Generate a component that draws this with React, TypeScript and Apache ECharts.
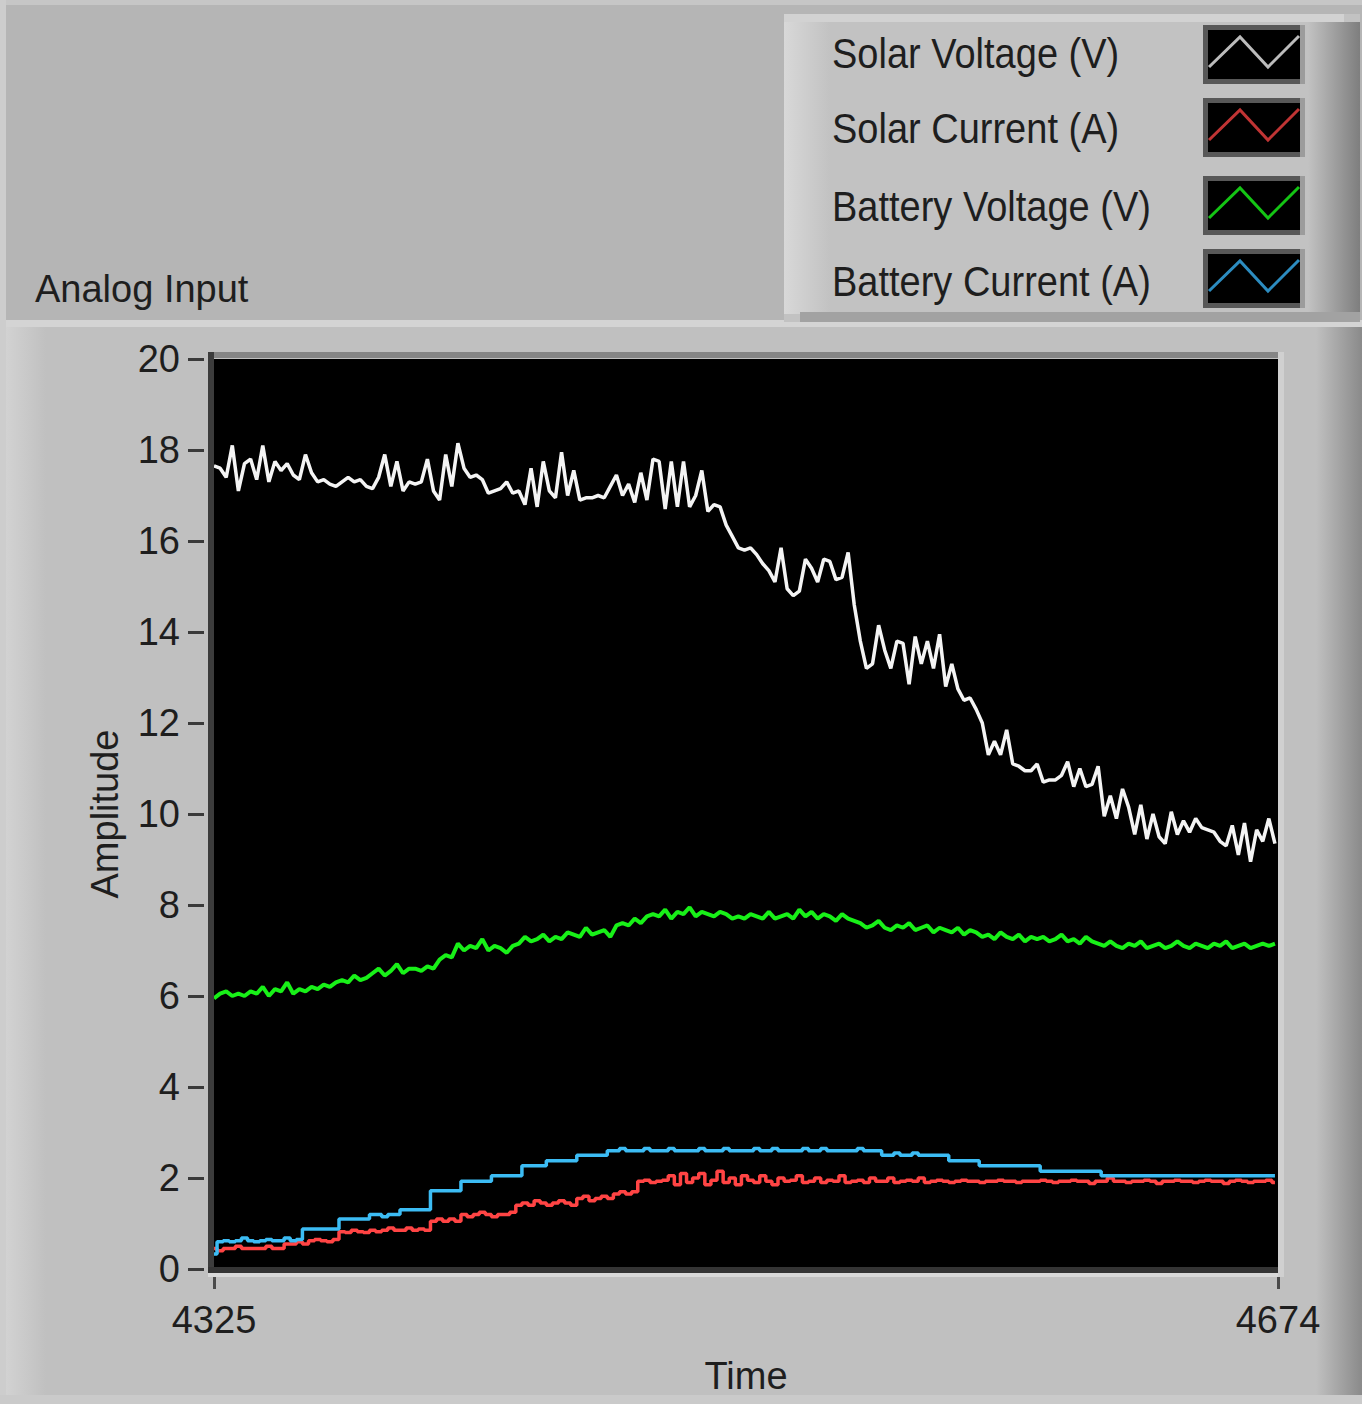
import React, { useEffect, useRef } from "react";
import * as echarts from "echarts";

// ---- data ----
const T0 = 4325; // first sample time
const T1 = 4674; // last time on axis
const DT = 2; // time units between listed samples

const seriesNames = ["Solar Voltage (V)", "Solar Current (A)", "Battery Voltage (V)", "Battery Current (A)"];
const seriesColors = ["#f4f4f4", "#ff4444", "#18f018", "#3cbcf4"];
const swatchColors = ["#bcbcbc", "#c03434", "#14c414", "#2c8cc0"];
const xTickValues = [4325, 4674];

const solarVoltage = [
  17.65, 17.6, 17.4, 18.1, 17.1, 17.7, 17.8, 17.35, 18.1, 17.3,
  17.75, 17.55, 17.7, 17.45, 17.35, 17.9, 17.5, 17.3, 17.35, 17.25,
  17.2, 17.3, 17.4, 17.3, 17.35, 17.2, 17.15, 17.4, 17.9, 17.2,
  17.75, 17.1, 17.3, 17.25, 17.3, 17.8, 17.1, 16.9, 17.9, 17.2,
  18.15, 17.6, 17.4, 17.45,
  17.35, 17.05, 17.1, 17.15, 17.3, 17.05, 17.1, 16.8, 17.6, 16.75,
  17.75, 17.1, 16.95, 17.95, 17.0, 17.55, 16.9, 16.95, 16.95, 17.0,
  16.95, 17.2, 17.45, 17.0, 17.25, 16.85, 17.5, 16.9, 17.8, 17.75,
  16.7, 17.75, 16.75, 17.75, 16.75, 17.0, 17.55, 16.65, 16.8, 16.75,
  16.35, 16.1, 15.85,
  15.8, 15.85, 15.7, 15.5, 15.35, 15.1, 15.85, 14.95, 14.8, 14.9,
  15.6, 15.4, 15.1, 15.6, 15.55, 15.15, 15.2, 15.75, 14.6, 13.8,
  13.2, 13.3, 14.15, 13.6, 13.2, 13.8, 13.75, 12.85, 13.9, 13.3,
  13.8, 13.2, 13.95, 12.8, 13.3, 12.75, 12.5, 12.55, 12.3, 12.0,
  11.3, 11.6, 11.3,
  11.85, 11.1, 11.05, 10.95, 10.95, 11.1, 10.7, 10.75, 10.75, 10.85,
  11.15, 10.6, 11.0, 10.6, 10.65, 11.05, 9.95, 10.4, 9.9, 10.55,
  10.15, 9.55, 10.2, 9.45, 10.0, 9.5, 9.35, 10.05, 9.55, 9.85,
  9.6, 9.9, 9.7, 9.65, 9.6, 9.4, 9.3, 9.75, 9.1, 9.8,
  8.95, 9.65, 9.4, 9.9, 9.35,
];

const solarCurrent = [
  0.45, 0.4, 0.45, 0.45, 0.5, 0.45, 0.45, 0.45, 0.45, 0.5, 0.45, 0.45,
  0.55, 0.55, 0.6, 0.55,
  0.62, 0.65, 0.62, 0.6, 0.65,
  0.82, 0.8, 0.85, 0.82, 0.8, 0.85, 0.82,
  0.85, 0.9, 0.85, 0.85, 0.9, 0.85, 0.88, 0.85,
  1.05, 1.1, 1.05, 1.1, 1.05,
  1.2, 1.15, 1.2, 1.25, 1.2, 1.15, 1.2, 1.2, 1.25,
  1.4, 1.45, 1.4, 1.5, 1.45, 1.4, 1.45, 1.5, 1.45, 1.4,
  1.55, 1.6, 1.5, 1.55, 1.6, 1.55,
  1.65, 1.7, 1.65, 1.7,
  1.93, 1.95, 1.9, 1.93, 1.95, 2.05, 1.85, 2.1, 1.9, 2.0,
  2.1, 1.85, 1.95, 2.15, 1.9, 2.0, 1.85, 2.05, 1.95, 1.9,
  2.05, 1.93, 1.85, 2.0, 1.93, 1.95, 2.05, 1.9, 1.93, 2.0,
  1.9, 1.95, 1.93, 2.05, 1.9, 1.93, 1.95, 1.9, 2.0, 1.93,
  1.93, 2.0, 1.9, 1.93, 1.95, 1.93, 2.0, 1.9, 1.93, 1.95,
  1.93, 1.9, 1.93, 1.95, 1.93, 1.93, 1.9, 1.93, 1.93, 1.95,
  1.93, 1.93, 1.9, 1.93, 1.93, 1.93, 1.95, 1.93, 1.9, 1.93,
  1.93, 1.95, 1.93, 1.93, 1.88, 1.93, 1.93, 2.0, 1.93, 1.93,
  1.9, 1.93, 1.93, 1.95, 1.93, 1.88, 1.93, 1.93, 1.95, 1.93,
  1.93, 1.9, 1.93, 1.95, 1.93, 1.93, 1.88, 1.93, 1.95, 1.93,
  1.9, 1.93, 1.93, 1.95, 1.9,
];

const batteryVoltage = [
  5.95, 6.05, 6.1, 6.0, 6.05, 6.0, 6.1, 6.05, 6.2, 6.0, 6.15, 6.1, 6.3, 6.05, 6.15, 6.1,
  6.2, 6.15, 6.25, 6.2, 6.3,
  6.35, 6.3, 6.45, 6.35, 6.4,
  6.5, 6.6, 6.45, 6.55, 6.7, 6.5, 6.6,
  6.6, 6.55, 6.65, 6.6,
  6.8, 6.9, 6.85, 7.15,
  7.0, 7.1, 7.05, 7.25, 7.0, 7.1, 7.05, 6.95, 7.1, 7.15,
  7.3, 7.2, 7.25, 7.35, 7.2, 7.3, 7.25,
  7.4, 7.35, 7.3, 7.5, 7.35, 7.4, 7.45, 7.3, 7.55,
  7.6, 7.55, 7.7, 7.6, 7.75,
  7.8, 7.75, 7.9, 7.7, 7.85, 7.8, 7.95,
  7.75, 7.85, 7.8, 7.75, 7.85, 7.8, 7.7,
  7.75, 7.7, 7.8, 7.75, 7.7, 7.85, 7.7, 7.75, 7.8, 7.7,
  7.9, 7.75, 7.85, 7.7, 7.8, 7.75, 7.65, 7.8, 7.7, 7.65,
  7.6, 7.5, 7.55, 7.65, 7.5, 7.45, 7.55, 7.5, 7.6, 7.45,
  7.5, 7.55, 7.4, 7.5, 7.45, 7.4, 7.5, 7.35, 7.45, 7.4,
  7.3, 7.35, 7.25, 7.4, 7.3, 7.25, 7.35, 7.2, 7.3, 7.25,
  7.3, 7.2, 7.25, 7.35, 7.2, 7.25, 7.15, 7.3, 7.2, 7.15,
  7.1, 7.2, 7.1, 7.05, 7.15, 7.1, 7.2, 7.05, 7.1, 7.15,
  7.05, 7.1, 7.2, 7.1, 7.05, 7.15, 7.1, 7.05, 7.15, 7.1,
  7.2, 7.05, 7.1, 7.15, 7.05, 7.1, 7.15, 7.1, 7.15,
];

const batteryCurrent = [
  0.33,
  0.6, 0.62, 0.6, 0.62, 0.68, 0.62, 0.6, 0.62, 0.65, 0.62, 0.62, 0.68, 0.62, 0.65,
  0.88, 0.88, 0.88, 0.88, 0.88, 0.88,
  1.1, 1.1, 1.1, 1.1, 1.1,
  1.2, 1.2, 1.15, 1.2, 1.2,
  1.3, 1.3, 1.3, 1.3, 1.3,
  1.72, 1.72, 1.72, 1.72, 1.72,
  1.93, 1.93, 1.93, 1.93, 1.93,
  2.05, 2.05, 2.05, 2.05, 2.05,
  2.27, 2.27, 2.27, 2.27,
  2.38, 2.38, 2.38, 2.38, 2.38,
  2.5, 2.5, 2.5, 2.5, 2.5,
  2.6, 2.6, 2.65, 2.6, 2.6, 2.6, 2.65, 2.6, 2.6, 2.6,
  2.65, 2.6, 2.6, 2.6, 2.6, 2.65, 2.6, 2.6, 2.6, 2.65,
  2.6, 2.6, 2.6, 2.6, 2.65, 2.6, 2.6, 2.65, 2.6, 2.6,
  2.6, 2.6, 2.65, 2.6, 2.6, 2.65, 2.6, 2.6, 2.6, 2.6,
  2.6, 2.65, 2.6, 2.6, 2.6,
  2.5, 2.5, 2.55, 2.5, 2.5, 2.55, 2.5, 2.5, 2.5, 2.5, 2.5,
  2.38, 2.38, 2.38, 2.38, 2.38,
  2.27, 2.27, 2.27, 2.27, 2.27, 2.27, 2.27, 2.27, 2.27, 2.27,
  2.15, 2.15, 2.15, 2.15, 2.15, 2.15, 2.15, 2.15, 2.15, 2.15,
  2.05, 2.05, 2.05, 2.05, 2.05, 2.05, 2.05, 2.05, 2.05, 2.05,
  2.05, 2.05, 2.05, 2.05, 2.05, 2.05, 2.05, 2.05, 2.05, 2.05,
  2.05, 2.05, 2.05, 2.05, 2.05, 2.05, 2.05, 2.05, 2.05,
];

const seriesValues = [solarVoltage, solarCurrent, batteryVoltage, batteryCurrent];
const seriesWidths = [3.5, 3.5, 4, 3.5];
const seriesStep: (false | string)[] = [false, "middle", false, "middle"];

const FONT = '"Liberation Sans", Arial, sans-serif';
const TEXT = "#1e1e1e";

function hGrad(a: string, b: string) {
  return new echarts.graphic.LinearGradient(0, 0, 1, 0, [
    { offset: 0, color: a },
    { offset: 1, color: b },
  ]);
}

export default function App() {
  const ref = useRef<HTMLDivElement>(null);

  useEffect(() => {
    document.body.style.margin = "0";
    document.body.style.overflow = "hidden";
    if (!ref.current) return;
    const chart = echarts.init(ref.current, undefined, { renderer: "svg" });

    const swatchTops = [30, 103, 181, 254];
    const legendTextY = [53, 128, 206, 281];

    const graphic: any[] = [
      // backgrounds
      { type: "rect", z: 0, silent: true, shape: { x: 0, y: 0, width: 1362, height: 322 }, style: { fill: "#b5b5b5" } },
      { type: "rect", z: 0, silent: true, shape: { x: 0, y: 0, width: 1362, height: 5 }, style: { fill: "#c6c6c6" } },
      { type: "rect", z: 0, silent: true, shape: { x: 0, y: 0, width: 6, height: 1404 }, style: { fill: "#cdcdcd" } },
      { type: "rect", z: 0, silent: true, shape: { x: 6, y: 320, width: 1356, height: 7 }, style: { fill: "#d4d4d4" } },
      { type: "rect", z: 0, silent: true, shape: { x: 6, y: 327, width: 40, height: 1068 }, style: { fill: hGrad("#d2d2d2", "#c0c0c0") } },
      { type: "rect", z: 0, silent: true, shape: { x: 1316, y: 327, width: 46, height: 1068 }, style: { fill: hGrad("#c0c0c0", "#8a8a8a") } },
      { type: "rect", z: 0, silent: true, shape: { x: 0, y: 1395, width: 1362, height: 9 }, style: { fill: "#cacaca" } },
      // legend panel
      { type: "rect", z: 1, silent: true, shape: { x: 784, y: 14, width: 576, height: 308 }, style: { fill: "#c2c2c2" } },
      { type: "rect", z: 1, silent: true, shape: { x: 784, y: 14, width: 46, height: 300 }, style: { fill: hGrad("#d8d8d8", "#c2c2c2") } },
      { type: "rect", z: 1, silent: true, shape: { x: 784, y: 14, width: 560, height: 8 }, style: { fill: "#d2d2d2" } },
      { type: "rect", z: 1, silent: true, shape: { x: 1308, y: 22, width: 52, height: 300 }, style: { fill: hGrad("#c2c2c2", "#7e7e7e") } },
      { type: "rect", z: 1, silent: true, shape: { x: 800, y: 312, width: 560, height: 10 }, style: { fill: "#a2a2a2" } },
      // plot frame
      { type: "rect", z: 5, silent: true, shape: { x: 208, y: 352, width: 1074, height: 6 }, style: { fill: "#858585" } },
      { type: "rect", z: 5, silent: true, shape: { x: 208, y: 352, width: 6, height: 921 }, style: { fill: "#3c3c3c" } },
      { type: "rect", z: 5, silent: true, shape: { x: 208, y: 1267, width: 1074, height: 6 }, style: { fill: "#343434" } },
      { type: "rect", z: 5, silent: true, shape: { x: 208, y: 1273, width: 1076, height: 4 }, style: { fill: "#d8d8d8" } },
      { type: "rect", z: 5, silent: true, shape: { x: 1278, y: 352, width: 6, height: 925 }, style: { fill: "#d0d0d0" } },
    ];

    seriesNames.forEach((name, i) => {
      const yt = swatchTops[i];
      const yb = yt + 49;
      graphic.push(
        { type: "rect", z: 2, silent: true, shape: { x: 1203, y: yt - 5, width: 102, height: 59 }, style: { fill: "#585858" } },
        { type: "rect", z: 2, silent: true, shape: { x: 1300, y: yt - 5, width: 5, height: 59 }, style: { fill: "#9c9c9c" } },
        { type: "rect", z: 3, silent: true, shape: { x: 1208, y: yt, width: 92, height: 49 }, style: { fill: "#000" } },
        {
          type: "polyline",
          z: 4,
          silent: true,
          shape: { points: [[1209, yb - 12], [1240, yt + 7], [1268, yb - 12], [1299, yt + 6]] },
          style: { stroke: swatchColors[i], lineWidth: 3, fill: null },
        },
        {
          type: "text",
          z: 4,
          silent: true,
          x: 832,
          y: legendTextY[i],
          scaleY: 1.1,
          style: { text: name, fill: TEXT, fontSize: 38, fontFamily: FONT, verticalAlign: "middle", align: "left" },
        }
      );
    });

    const option: any = {
      animation: false,
      backgroundColor: "#c0c0c0",
      title: {
        text: "Analog Input",
        left: 35,
        top: 267,
        padding: 0,
        textStyle: { fontSize: 38, fontWeight: "normal", fontFamily: FONT, color: TEXT, lineHeight: 44 },
      },
      grid: {
        left: 214,
        top: 359,
        width: 1064,
        height: 910,
        show: true,
        backgroundColor: "#000000",
        borderWidth: 0,
        containLabel: false,
      },
      xAxis: {
        type: "value",
        min: T0,
        max: T1,
        offset: 6,
        name: "Time",
        nameLocation: "middle",
        nameGap: 82,
        nameTextStyle: { fontSize: 38, fontFamily: FONT, color: TEXT },
        axisLine: { show: false },
        axisTick: { show: true, length: 20, customValues: xTickValues, lineStyle: { color: "#4a4a4a", width: 3 } },
        axisLabel: {
          customValues: xTickValues,
          formatter: (v: number) => String(v),
          margin: 26,
          fontSize: 38,
          lineHeight: 38,
          fontFamily: FONT,
          color: TEXT,
        },
        splitLine: { show: false },
      },
      yAxis: {
        type: "value",
        min: 0,
        max: 20,
        interval: 2,
        offset: 10,
        name: "Amplitude",
        nameLocation: "middle",
        nameRotate: 90,
        nameGap: 80,
        nameTextStyle: { fontSize: 38, fontFamily: FONT, color: TEXT },
        axisLine: { show: false },
        axisTick: { show: true, length: 16, lineStyle: { color: "#3a3a3a", width: 3 } },
        axisLabel: { margin: 24, fontSize: 38, fontFamily: FONT, color: TEXT },
        splitLine: { show: false },
      },
      graphic,
      series: seriesNames.map((name, i) => ({
        name,
        type: "line",
        data: seriesValues[i].map((v, k) => [T0 + DT * k, v]),
        showSymbol: false,
        symbol: "none",
        step: seriesStep[i],
        silent: true,
        clip: true,
        lineStyle: { color: seriesColors[i], width: seriesWidths[i] },
        itemStyle: { color: seriesColors[i] },
        z: 3,
      })),
    };

    chart.setOption(option);
    return () => chart.dispose();
  }, []);

  return <div ref={ref} style={{ width: 1362, height: 1404 }} />;
}
